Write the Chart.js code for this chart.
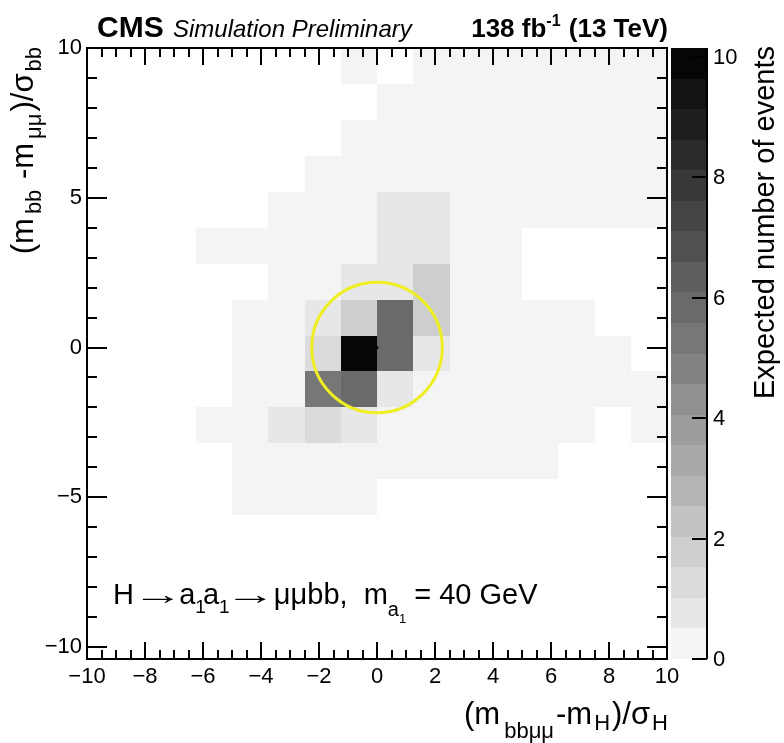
<!DOCTYPE html>
<html>
<head>
<meta charset="utf-8">
<script src="https://cdn.jsdelivr.net/npm/chart.js@4.4.0/dist/chart.umd.min.js"></script>
<style>
  html, body { margin: 0; padding: 0; background: #fff; }
  #wrap { width: 784px; height: 743px; }
</style>
</head>
<body>
<div id="wrap"><canvas id="hist" width="784" height="743"></canvas></div>
<script>
const FONT = "'Liberation Sans', Arial, Helvetica, sans-serif";

// bin edges of the 2D histogram
const xEdges = [-10, -8.75, -7.5, -6.25, -5, -3.75, -2.5, -1.25, 0, 1.25, 2.5, 3.75, 5, 6.25, 7.5, 8.75, 10];
const yEdges = [10, 8.8, 7.6, 6.4, 5.2, 4.0, 2.8, 1.6, 0.4, -0.8, -2.0, -3.2, -4.4, -5.6, -6.8, -8.0, -9.2, -10.4];

// expected events per bin, one row per y bin starting from the top
const counts = [
  [0, 0, 0, 0,   0,   0,   0,   0.3,  0,   0.3, 0.3, 0.3, 0.3, 0.3, 0.3, 0.3],
  [0, 0, 0, 0,   0,   0,   0,   0,    0.3, 0.3, 0.3, 0.3, 0.3, 0.3, 0.3, 0.3],
  [0, 0, 0, 0,   0,   0,   0,   0.3,  0.3, 0.3, 0.3, 0.3, 0.3, 0.3, 0.3, 0.3],
  [0, 0, 0, 0,   0,   0,   0.3, 0.3,  0.3, 0.3, 0.3, 0.3, 0.3, 0.3, 0.3, 0.3],
  [0, 0, 0, 0,   0,   0.3, 0.3, 0.3,  0.75,0.75,0.3, 0.3, 0.3, 0.3, 0.3, 0.3],
  [0, 0, 0, 0.3, 0.3, 0.3, 0.3, 0.3,  0.75,0.75,0.3, 0.3, 0,   0,   0,   0  ],
  [0, 0, 0, 0,   0,   0.3, 0.3, 0.75, 0.75,2.0, 0.3, 0.3, 0,   0,   0,   0  ],
  [0, 0, 0, 0,   0.3, 0.3, 0.75,1.7,  5.8, 2.0, 0.3, 0.3, 0.3, 0.3, 0,   0  ],
  [0, 0, 0, 0,   0.3, 0.3, 1.2, 10.1, 5.8, 0.75,0.3, 0.3, 0.3, 0.3, 0.3, 0  ],
  [0, 0, 0, 0,   0.3, 0.3, 5.3, 5.6,  0.75,0.3, 0.3, 0.3, 0.3, 0.3, 0.3, 0.3],
  [0, 0, 0, 0.3, 0.3, 0.75,1.2, 0.75, 0.3, 0.3, 0.3, 0.3, 0.3, 0.3, 0,   0.3],
  [0, 0, 0, 0,   0.3, 0.3, 0.3, 0.3,  0.3, 0.3, 0.3, 0.3, 0.3, 0,   0,   0  ],
  [0, 0, 0, 0,   0.3, 0.3, 0.3, 0.3,  0,   0,   0,   0,   0,   0,   0,   0  ],
  [0, 0, 0, 0,   0,   0,   0,   0,    0,   0,   0,   0,   0,   0,   0,   0  ],
  [0, 0, 0, 0,   0,   0,   0,   0,    0,   0,   0,   0,   0,   0,   0,   0  ],
  [0, 0, 0, 0,   0,   0,   0,   0,    0,   0,   0,   0,   0,   0,   0,   0  ],
  [0, 0, 0, 0,   0,   0,   0,   0,    0,   0,   0,   0,   0,   0,   0,   0  ]
];

// fitted peak position and window radius (in sigma)
const peak = [{ x: 0, y: 0 }];
const windowRadius = 2.25;

const xTicks = [-10, -8, -6, -4, -2, 0, 2, 4, 6, 8, 10];
const yTicks = [-10, -5, 0, 5, 10];
const zTicks = [0, 2, 4, 6, 8, 10];
const zMax = 10.15;
const nLevels = 20;

function levelColor(v) {
  const k = Math.min(nLevels - 1, Math.floor(v / zMax * nLevels));
  const g = Math.round(244 - k * (244 - 6) / (nLevels - 1));
  return "rgb(" + g + "," + g + "," + g + ")";
}

function tickText(v) {
  return v < 0 ? "\u2212" + Math.abs(v) : String(v);
}

// text made of pieces: [text, size, dy, style, gapAfter, stretchX]
function fontOf(p) {
  return (p[3] || "") + " " + p[1] + "px " + FONT;
}
function pieceWidth(ctx, p) {
  ctx.font = fontOf(p);
  return ctx.measureText(p[0]).width * (p[5] || 1) + (p[4] || 0);
}
function drawRich(ctx, parts, x, y, align) {
  let w = 0;
  for (const p of parts) w += pieceWidth(ctx, p);
  let cx = align === "right" ? x - w : x;
  ctx.textAlign = "left";
  ctx.textBaseline = "alphabetic";
  for (const p of parts) {
    ctx.font = fontOf(p);
    ctx.save();
    ctx.translate(cx, y + p[2]);
    ctx.scale(p[5] || 1, 1);
    ctx.fillText(p[0], 0, 0);
    ctx.restore();
    cx += pieceWidth(ctx, p);
  }
}

const hist2d = {
  id: "hist2d",
  beforeDatasetsDraw(chart) {
    const { ctx, scales: { x, y } } = chart;
    ctx.save();
    counts.forEach((row, r) => row.forEach((v, c) => {
      if (v <= 0) return;
      const x0 = Math.round(x.getPixelForValue(xEdges[c]));
      const x1 = Math.round(x.getPixelForValue(xEdges[c + 1]));
      const y0 = Math.round(y.getPixelForValue(yEdges[r]));
      const y1 = Math.round(y.getPixelForValue(yEdges[r + 1]));
      ctx.fillStyle = levelColor(v);
      ctx.fillRect(x0, y0, x1 - x0, y1 - y0);
    }));

    // signal window
    const cx = x.getPixelForValue(peak[0].x), cy = y.getPixelForValue(peak[0].y);
    const rad = x.getPixelForValue(windowRadius) - x.getPixelForValue(0);
    ctx.strokeStyle = "#eeee22";
    ctx.lineWidth = 3;
    ctx.beginPath();
    ctx.arc(cx, cy, rad, 0, Math.PI * 2);
    ctx.stroke();
    ctx.restore();
  },
  afterDraw(chart) {
    const { ctx, chartArea: a, scales: { x, y, z } } = chart;
    ctx.save();
    ctx.strokeStyle = "#000";
    ctx.fillStyle = "#000";

    // ticks on all four sides, pointing inward
    ctx.lineWidth = 2;
    ctx.beginPath();
    for (let v = -10; v <= 10; v += 0.5) {
      const px = Math.round(x.getPixelForValue(v));
      const len = v % 2 === 0 ? 17 : 9;
      ctx.moveTo(px, a.bottom); ctx.lineTo(px, a.bottom - len);
      ctx.moveTo(px, a.top); ctx.lineTo(px, a.top + len);
    }
    for (let v = -10; v <= 10; v += 1) {
      const py = Math.round(y.getPixelForValue(v));
      const len = v % 5 === 0 ? 20 : 10;
      ctx.moveTo(a.left, py); ctx.lineTo(a.left + len, py);
      ctx.moveTo(a.right, py); ctx.lineTo(a.right - len, py);
    }
    ctx.stroke();
    ctx.strokeRect(a.left, a.top, a.right - a.left, a.bottom - a.top);

    // colour bar
    const barL = 671, barR = 707;
    for (let k = 0; k < nLevels; k++) {
      const z0 = k * zMax / nLevels, z1 = (k + 1) * zMax / nLevels;
      const p0 = Math.round(z.getPixelForValue(z0)), p1 = Math.round(z.getPixelForValue(z1));
      ctx.fillStyle = levelColor((z0 + z1) / 2);
      ctx.fillRect(barL, p1, barR - barL, p0 - p1);
    }
    ctx.fillStyle = "#000";
    ctx.beginPath();
    ctx.moveTo(barR, a.top); ctx.lineTo(barR, a.bottom);
    for (const v of zTicks) {
      const py = Math.round(z.getPixelForValue(v));
      ctx.moveTo(barR, py); ctx.lineTo(barR - 15, py);
    }
    ctx.stroke();
    ctx.font = "22px " + FONT;
    ctx.textAlign = "left";
    ctx.textBaseline = "middle";
    for (const v of zTicks) ctx.fillText(String(v), barR + 6, z.getPixelForValue(v) + 1);

    // header
    drawRich(ctx, [["CMS", 30, 0, "bold"]], 97, 37, "left");
    drawRich(ctx, [["Simulation Preliminary", 24, 0, "italic"]], 173, 37, "left");
    drawRich(ctx, [["138 fb", 26, 0, "bold"], ["-1", 16, -11, "bold", 1], [" (13 TeV)", 26, 0, "bold"]], 668, 37, "right");

    // axis titles
    drawRich(ctx, [["(m", 31, 0, "", 4], ["bb\u03bc\u03bc", 22, 14, "", 2], ["-m", 31, 0, "", 2], ["H", 22, 6, "", 2],
      [")/\u03c3", 31, 0, "", 2], ["H", 22, 6]], 668, 724, "right");

    ctx.save();
    ctx.translate(33, 47);
    ctx.rotate(-Math.PI / 2);
    drawRich(ctx, [["(m", 31, 0, "", 4], ["bb", 22, 8, "", 2], [" -m", 31, 0, "", 4], ["\u03bc\u03bc", 22, 8, "", 2],
      [")/\u03c3", 31, 0, "", 2], ["bb", 22, 8]], 0, 0, "right");
    ctx.restore();

    ctx.save();
    ctx.translate(774, 46);
    ctx.rotate(-Math.PI / 2);
    drawRich(ctx, [["Expected number of events", 29, 0]], 0, 0, "right");
    ctx.restore();

    // process label
    drawRich(ctx, [["H", 29, 0, "", -1.5], ["\u2192", 29, 0, "", -4, 1.75], ["a", 29, 0], ["1", 19, 9, "", -3],
      ["a", 29, 0], ["1", 19, 9, "", -4.5], ["\u2192", 29, 0, "", -2, 1.75],
      ["\u03bc\u03bcbb,  m", 29, 0, "", 0], ["a", 20, 12], ["1", 13, 19, "", 0], [" = 40 GeV", 29, 0]], 113, 604, "left");
    ctx.restore();
  }
};

new Chart(document.getElementById("hist"), {
  type: "scatter",
  data: {
    datasets: [{
      data: peak,
      pointRadius: 1.5,
      backgroundColor: "#000",
      borderWidth: 0
    }]
  },
  options: {
    responsive: false,
    animation: false,
    layout: { padding: { top: 48, right: 117, left: 0, bottom: 0 } },
    plugins: {
      legend: { display: false },
      tooltip: { enabled: false }
    },
    scales: {
      x: {
        type: "linear", min: -10, max: 10,
        grid: { display: false, drawTicks: false },
        border: { display: false },
        afterBuildTicks: s => { s.ticks = xTicks.map(v => ({ value: v })); },
        afterFit: s => { s.height = 84; },
        ticks: { color: "#000", font: { family: FONT, size: 22 }, padding: 5,
                 autoSkip: false, maxRotation: 0, callback: tickText }
      },
      y: {
        type: "linear", min: -10.4, max: 10,
        grid: { display: false, drawTicks: false },
        border: { display: false },
        afterBuildTicks: s => { s.ticks = yTicks.map(v => ({ value: v })); },
        afterFit: s => { s.width = 87; },
        ticks: { color: "#000", font: { family: FONT, size: 22 }, padding: 5,
                 autoSkip: false, callback: tickText }
      },
      z: {
        type: "linear", axis: "y", position: "right", display: false,
        min: 0, max: zMax
      }
    }
  },
  plugins: [hist2d]
});
</script>
</body>
</html>
